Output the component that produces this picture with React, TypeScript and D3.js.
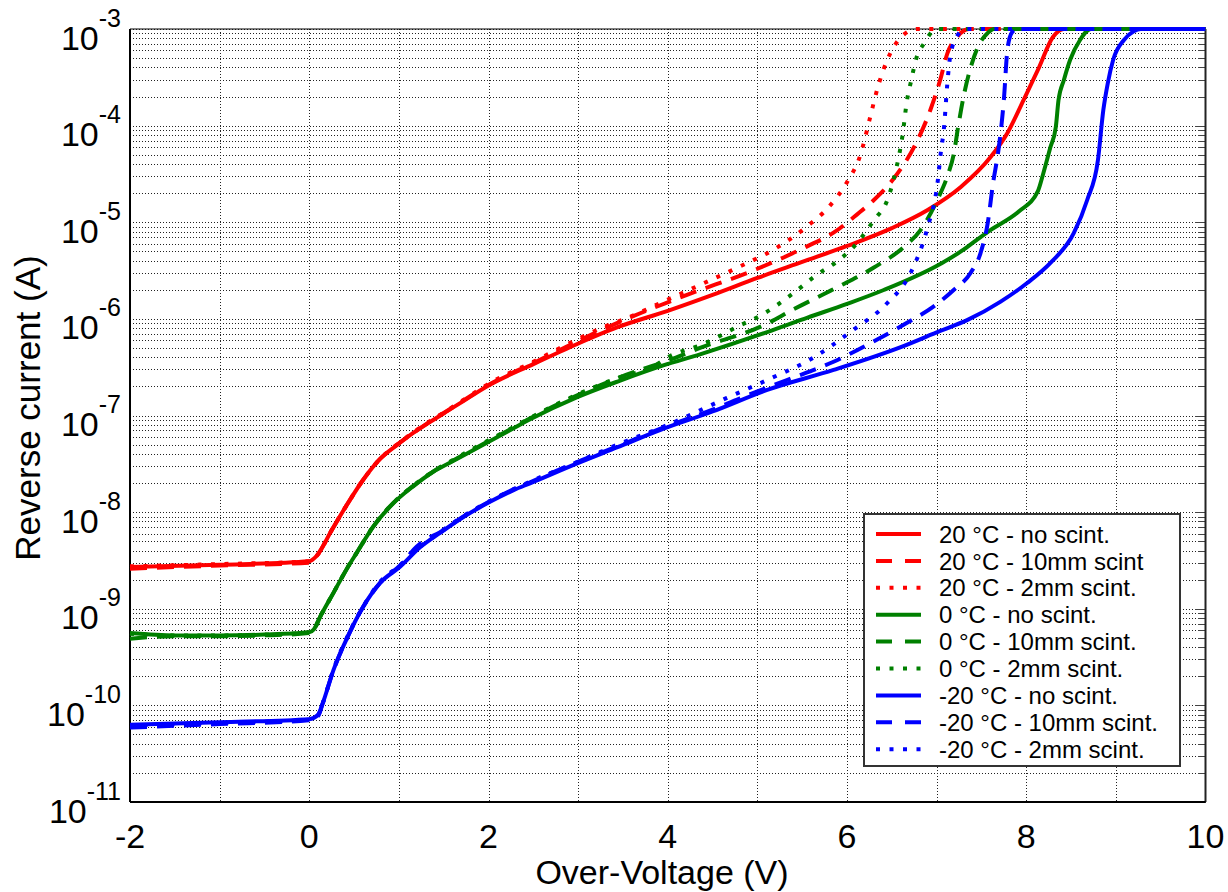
import React from "react";
import * as d3 from "d3";

type Pt = [number, number];

// Reverse current vs over-voltage, [V, A]
const red20NoScint: Pt[] = [
  [-2.0, 2.7e-9], [-1.0, 2.85e-9], [0.0, 3.1e-9], [0.08, 3.5e-9], [0.25, 6.5e-9], [0.42, 1.19e-8],
  [0.6, 2.15e-8], [0.79, 3.55e-8], [0.98, 4.95e-8], [1.16, 6.6e-8], [1.35, 8.6e-8], [1.54, 1.11e-7],
  [1.72, 1.41e-7], [1.99, 2.02e-7], [2.5, 3.4e-7], [2.99, 5.5e-7], [3.44, 8.2e-7], [4.0, 1.21e-6],
  [4.5, 1.77e-6], [5.0, 2.65e-6], [5.5, 3.88e-6], [6.0, 5.68e-6], [6.5, 8.7e-6], [6.9, 1.34e-5],
  [7.27, 2.32e-5], [7.6, 4.7e-5], [7.79, 8.4e-5], [7.97, 1.84e-4], [8.13, 3.77e-4], [8.3, 8.3e-4],
  [8.42, 1e-3], [10.0, 1e-3],
];
const red20TenMm: Pt[] = [
  [-2.0, 2.6e-9], [-1.0, 2.8e-9], [0.0, 3.0e-9], [0.08, 3.5e-9], [0.25, 6.5e-9], [0.42, 1.19e-8],
  [0.6, 2.15e-8], [0.79, 3.55e-8], [0.98, 5.0e-8], [1.16, 6.6e-8], [1.35, 8.7e-8], [1.54, 1.12e-7],
  [1.72, 1.43e-7], [1.99, 2.05e-7], [2.5, 3.5e-7], [3.0, 5.9e-7], [3.25, 7.6e-7], [3.7, 1.15e-6],
  [4.2, 1.75e-6], [5.0, 3.3e-6], [5.55, 5.6e-6], [5.85, 7.8e-6], [6.11, 1.2e-5], [6.3, 1.7e-5],
  [6.53, 2.9e-5], [6.76, 6.3e-5], [6.93, 1.45e-4], [7.04, 2.97e-4], [7.12, 5.6e-4], [7.23, 8.3e-4],
  [7.36, 1e-3], [10.0, 1e-3],
];
const red20TwoMm: Pt[] = [
  [-2.0, 2.75e-9], [-1.0, 2.9e-9], [0.0, 3.1e-9], [0.08, 3.5e-9], [0.25, 6.5e-9], [0.42, 1.19e-8],
  [0.6, 2.15e-8], [0.79, 3.55e-8], [0.98, 5.0e-8], [1.16, 6.7e-8], [1.35, 8.8e-8], [1.54, 1.13e-7],
  [1.72, 1.45e-7], [1.99, 2.1e-7], [2.5, 3.6e-7], [3.0, 6.2e-7], [3.28, 8.2e-7], [3.58, 1.05e-6],
  [3.86, 1.38e-6], [4.44, 2.43e-6], [4.88, 3.76e-6], [5.18, 5.2e-6], [5.55, 9.0e-6], [5.8, 1.45e-5],
  [6.0, 2.6e-5], [6.15, 5.0e-5], [6.26, 1.24e-4], [6.34, 2.43e-4], [6.45, 4.8e-4], [6.63, 8.7e-4],
  [6.78, 1e-3], [10.0, 1e-3],
];
const green0NoScint: Pt[] = [
  [-2.0, 5.6e-10], [-1.5, 5.3e-10], [-1.0, 5.3e-10], [-0.5, 5.4e-10], [0.0, 5.7e-10], [0.05, 6.1e-10],
  [0.12, 8.2e-10], [0.27, 1.46e-9], [0.42, 2.6e-9], [0.53, 3.8e-9], [0.71, 7.0e-9], [0.94, 1.24e-8],
  [1.16, 1.85e-8], [1.38, 2.6e-8], [1.61, 3.4e-8], [1.91, 4.8e-8], [2.28, 7.4e-8], [2.47, 9.2e-8],
  [2.99, 1.55e-7], [3.47, 2.3e-7], [3.95, 3.3e-7], [4.36, 4.3e-7], [5.11, 7.3e-7], [5.56, 1.03e-6],
  [6.0, 1.43e-6], [6.41, 1.99e-6], [7.04, 3.7e-6], [7.3, 5.2e-6], [7.41, 6.2e-6], [7.6, 8.3e-6],
  [7.92, 1.3e-5], [8.13, 2.1e-5], [8.19, 3.2e-5], [8.27, 6.0e-5], [8.33, 9.7e-5], [8.36, 1.84e-4],
  [8.42, 2.97e-4], [8.49, 4.8e-4], [8.6, 7.7e-4], [8.72, 1e-3], [10.0, 1e-3],
];
const green0TenMm: Pt[] = [
  [-2.0, 4.9e-10], [-1.5, 5.2e-10], [-1.0, 5.2e-10], [-0.5, 5.3e-10], [0.0, 5.6e-10], [0.05, 6.0e-10],
  [0.12, 8.2e-10], [0.27, 1.46e-9], [0.42, 2.6e-9], [0.53, 3.8e-9], [0.71, 7.0e-9], [0.94, 1.25e-8],
  [1.16, 1.87e-8], [1.38, 2.62e-8], [1.61, 3.45e-8], [1.91, 4.9e-8], [2.28, 7.5e-8], [2.47, 9.4e-8],
  [2.99, 1.62e-7], [3.47, 2.5e-7], [4.0, 3.7e-7], [4.36, 5.0e-7], [5.07, 8.6e-7], [5.4, 1.25e-6],
  [5.88, 2.1e-6], [6.3, 3.4e-6], [6.63, 5.5e-6], [6.82, 8.3e-6], [7.02, 1.8e-5], [7.12, 3.0e-5],
  [7.19, 5.0e-5], [7.24, 9.7e-5], [7.3, 1.98e-4], [7.38, 4.0e-4], [7.46, 6.5e-4], [7.57, 9.1e-4],
  [7.64, 1e-3], [10.0, 1e-3],
];
const green0TwoMm: Pt[] = [
  [-2.0, 5.5e-10], [-1.5, 5.3e-10], [-1.0, 5.3e-10], [-0.5, 5.4e-10], [0.0, 5.7e-10], [0.05, 6.1e-10],
  [0.12, 8.2e-10], [0.27, 1.46e-9], [0.42, 2.6e-9], [0.53, 3.8e-9], [0.71, 7.0e-9], [0.94, 1.25e-8],
  [1.16, 1.87e-8], [1.38, 2.62e-8], [1.61, 3.5e-8], [1.91, 5.0e-8], [2.28, 7.6e-8], [2.47, 9.5e-8],
  [2.99, 1.65e-7], [3.47, 2.5e-7], [3.84, 3.2e-7], [4.0, 4.0e-7], [4.4, 5.5e-7], [4.8, 8.5e-7],
  [5.05, 1.1e-6], [5.4, 1.84e-6], [5.65, 2.8e-6], [5.9, 4.0e-6], [6.07, 5.5e-6], [6.3, 1.05e-5],
  [6.45, 1.7e-5], [6.55, 3.6e-5], [6.62, 8.0e-5], [6.67, 1.84e-4], [6.71, 2.76e-4], [6.78, 5.2e-4],
  [6.86, 7.1e-4], [6.95, 9.4e-4], [7.0, 1e-3], [10.0, 1e-3],
];
const blueM20NoScint: Pt[] = [
  [-2.0, 6.3e-11], [-1.0, 6.7e-11], [0.0, 7.2e-11], [0.1, 8.0e-11], [0.15, 1.05e-10], [0.27, 2.32e-10],
  [0.44, 5.4e-10], [0.6, 1.04e-9], [0.79, 1.85e-9], [1.01, 2.7e-9], [1.24, 4.35e-9], [1.46, 6.1e-9],
  [1.72, 8.9e-9], [1.99, 1.24e-8], [2.28, 1.69e-8], [2.47, 2.0e-8], [2.99, 3.2e-8], [3.44, 4.7e-8],
  [3.92, 7.1e-8], [4.5, 1.1e-7], [5.11, 1.84e-7], [5.85, 2.96e-7], [6.6, 5.1e-7], [7.04, 7.5e-7],
  [7.34, 9.7e-7], [7.71, 1.5e-6], [8.01, 2.35e-6], [8.27, 3.8e-6], [8.53, 7.7e-6], [8.68, 1.7e-5],
  [8.8, 4.4e-5], [8.86, 1.45e-4], [8.91, 2.76e-4], [8.97, 4.8e-4], [9.09, 7.7e-4], [9.2, 9.5e-4],
  [9.28, 1e-3], [10.0, 1e-3],
];
const blueM20TenMm: Pt[] = [
  [-2.0, 5.9e-11], [-1.0, 6.4e-11], [0.0, 7.0e-11], [0.1, 7.8e-11], [0.15, 1.05e-10], [0.27, 2.3e-10],
  [0.44, 5.4e-10], [0.6, 1.04e-9], [0.79, 1.85e-9], [1.01, 2.8e-9], [1.2, 4.4e-9], [1.27, 5.0e-9],
  [1.46, 6.2e-9], [1.72, 9.0e-9], [1.99, 1.26e-8], [2.28, 1.72e-8], [2.47, 2.05e-8], [2.99, 3.3e-8],
  [3.44, 4.8e-8], [3.92, 7.3e-8], [4.5, 1.15e-7], [4.8, 1.5e-7], [5.33, 2.33e-7], [5.85, 3.6e-7],
  [6.29, 5.8e-7], [6.67, 9.1e-7], [6.96, 1.33e-6], [7.19, 1.99e-6], [7.38, 3.0e-6], [7.49, 4.8e-6],
  [7.57, 9.8e-6], [7.63, 2.55e-5], [7.69, 5.6e-5], [7.75, 1.84e-4], [7.79, 6.1e-4], [7.84, 9.2e-4],
  [7.9, 1e-3], [10.0, 1e-3],
];
const blueM20TwoMm: Pt[] = [
  [-2.0, 6.2e-11], [-1.0, 6.6e-11], [0.0, 7.1e-11], [0.1, 8.0e-11], [0.15, 1.05e-10], [0.27, 2.35e-10],
  [0.44, 5.5e-10], [0.6, 1.05e-9], [0.79, 1.9e-9], [1.01, 2.8e-9], [1.24, 4.4e-9], [1.46, 6.2e-9],
  [1.72, 9.1e-9], [1.99, 1.27e-8], [2.28, 1.73e-8], [2.47, 2.08e-8], [2.99, 3.3e-8], [3.44, 5.0e-8],
  [4.0, 8.0e-8], [4.66, 1.52e-7], [5.11, 2.33e-7], [5.63, 4.0e-7], [6.07, 7.7e-7], [6.45, 1.46e-6],
  [6.71, 3.0e-6], [6.9, 8.9e-6], [7.01, 2.55e-5], [7.05, 5.6e-5], [7.08, 9.0e-5], [7.12, 2.76e-4],
  [7.15, 5.1e-4], [7.23, 8.5e-4], [7.32, 1e-3], [10.0, 1e-3],
];

const seriesLabels = [
  "20 °C - no scint.",
  "20 °C - 10mm scint",
  "20 °C - 2mm scint.",
  "0 °C - no scint.",
  "0 °C - 10mm scint.",
  "0 °C - 2mm scint.",
  "-20 °C - no scint.",
  "-20 °C - 10mm scint.",
  "-20 °C - 2mm scint.",
];
const seriesData: Pt[][] = [
  red20NoScint, red20TenMm, red20TwoMm,
  green0NoScint, green0TenMm, green0TwoMm,
  blueM20NoScint, blueM20TenMm, blueM20TwoMm,
];
const seriesColors = ["#ff0000", "#ff0000", "#ff0000", "#008000", "#008000", "#008000", "#0000ff", "#0000ff", "#0000ff"];
const seriesStyles = ["solid", "dashed", "dotted", "solid", "dashed", "dotted", "solid", "dashed", "dotted"];

const xTicks = [-2, 0, 2, 4, 6, 8, 10];
const yExponents = [-3, -4, -5, -6, -7, -8, -9, -10, -11];

const W = 1228;
const H = 892;
const M = { left: 130, right: 1205.5, top: 29, bottom: 802 };
const FONT = "'Liberation Sans', Arial, Helvetica, sans-serif";

const dashFor: Record<string, string | undefined> = {
  solid: undefined,
  dashed: "17,10",
  dotted: "4,9.5",
};

const snap = (v: number) => Math.round(v) + 0.5;

export default function App() {
  const x = d3.scaleLinear().domain([-2, 10]).range([M.left, M.right]);
  const y = d3.scaleLog().domain([1e-11, 1e-3]).range([M.bottom, M.top]);
  const line = d3
    .line<Pt>()
    .x((d) => x(d[0]))
    .y((d) => y(d[1]))
    .curve(d3.curveMonotoneX);

  const vGrid = d3.range(-1, 10);
  const hMajor = yExponents.map((e) => Math.pow(10, e));
  const hMinor: number[] = [];
  for (let e = -11; e < -3; e++) for (let m = 2; m <= 9; m++) hMinor.push(m * Math.pow(10, e));

  const gridStyle = { stroke: "#222", strokeWidth: 1, strokeDasharray: "1,2" };

  const legX = 864;
  const legY = 514;
  const legW = 316;
  const legH = 252;
  const rowY0 = 534;
  const rowGap = 26.9;

  return (
    <svg width={W} height={H} style={{ position: "absolute", left: 0, top: 0, background: "#fff" }} fontFamily={FONT}>
      <rect x={0} y={0} width={W} height={H} fill="#fff" />
      {/* grid */}
      <g shapeRendering="crispEdges">
        {vGrid.map((v) => (
          <line key={"v" + v} x1={snap(x(v))} x2={snap(x(v))} y1={M.top} y2={M.bottom} {...gridStyle} />
        ))}
        {hMinor.map((v, i) => (
          <line key={"m" + i} x1={M.left} x2={M.right} y1={snap(y(v))} y2={snap(y(v))} {...gridStyle} />
        ))}
        {hMajor.map((v, i) => (
          <line key={"M" + i} x1={M.left} x2={M.right} y1={snap(y(v))} y2={snap(y(v))} {...gridStyle} />
        ))}
      </g>
      {/* right-side ticks */}
      <g stroke="#444" strokeWidth={1} shapeRendering="crispEdges">
        {hMinor.map((v, i) => (
          <line key={"rt" + i} x1={M.right - 8} x2={M.right} y1={snap(y(v))} y2={snap(y(v))} />
        ))}
        {hMajor.map((v, i) => (
          <line key={"rT" + i} x1={M.right - 11} x2={M.right} y1={snap(y(v))} y2={snap(y(v))} />
        ))}
      </g>
      {/* frame */}
      <line x1={M.left} x2={M.right} y1={M.top} y2={M.top} stroke="#000" strokeWidth={1} />
      <line x1={M.right} x2={M.right} y1={M.top} y2={M.bottom} stroke="#222" strokeWidth={2} />
      <line x1={M.left} x2={M.left} y1={M.top} y2={M.bottom} stroke="#000" strokeWidth={2} />
      <line x1={M.left} x2={M.right} y1={M.bottom} y2={M.bottom} stroke="#000" strokeWidth={2} />
      {/* curves */}
      <g fill="none" strokeWidth={4} strokeLinejoin="round">
        {seriesData.map((d, i) => (
          <path
            key={"s" + i}
            d={line(d) || ""}
            stroke={seriesColors[i]}
            strokeDasharray={dashFor[seriesStyles[i]]}
            strokeLinecap="butt"
          />
        ))}
      </g>
      {/* y tick labels */}
      {yExponents.map((e) => (
        <text key={"yl" + e} x={121} y={y(Math.pow(10, e)) + 20.5} textAnchor="end" fontSize={34} fill="#000">
          10
          <tspan dy={-23} fontSize={25}>
            {String(e)}
          </tspan>
        </text>
      ))}
      {/* x tick labels */}
      {xTicks.map((t) => (
        <text key={"xl" + t} x={x(t)} y={848} textAnchor="middle" fontSize={34} fill="#000">
          {String(t)}
        </text>
      ))}
      {/* axis titles */}
      <text x={662} y={884} textAnchor="middle" fontSize={34} fill="#000">
        Over-Voltage (V)
      </text>
      <text transform="translate(40,408) rotate(-90)" textAnchor="middle" fontSize={35} fill="#000">
        Reverse current (A)
      </text>
      {/* legend */}
      <rect x={legX} y={legY} width={legW} height={legH} fill="#fff" stroke="#333" strokeWidth={2} />
      {seriesLabels.map((lab, i) => {
        const cy = rowY0 + i * rowGap;
        return (
          <g key={"lg" + i}>
            <line
              x1={876}
              x2={921}
              y1={cy}
              y2={cy}
              stroke={seriesColors[i]}
              strokeWidth={4}
              strokeDasharray={seriesStyles[i] === "dashed" ? "16,13" : dashFor[seriesStyles[i]]}
            />
            <text x={939} y={cy + 8.6} fontSize={24} fill="#000">
              {lab}
            </text>
          </g>
        );
      })}
    </svg>
  );
}
